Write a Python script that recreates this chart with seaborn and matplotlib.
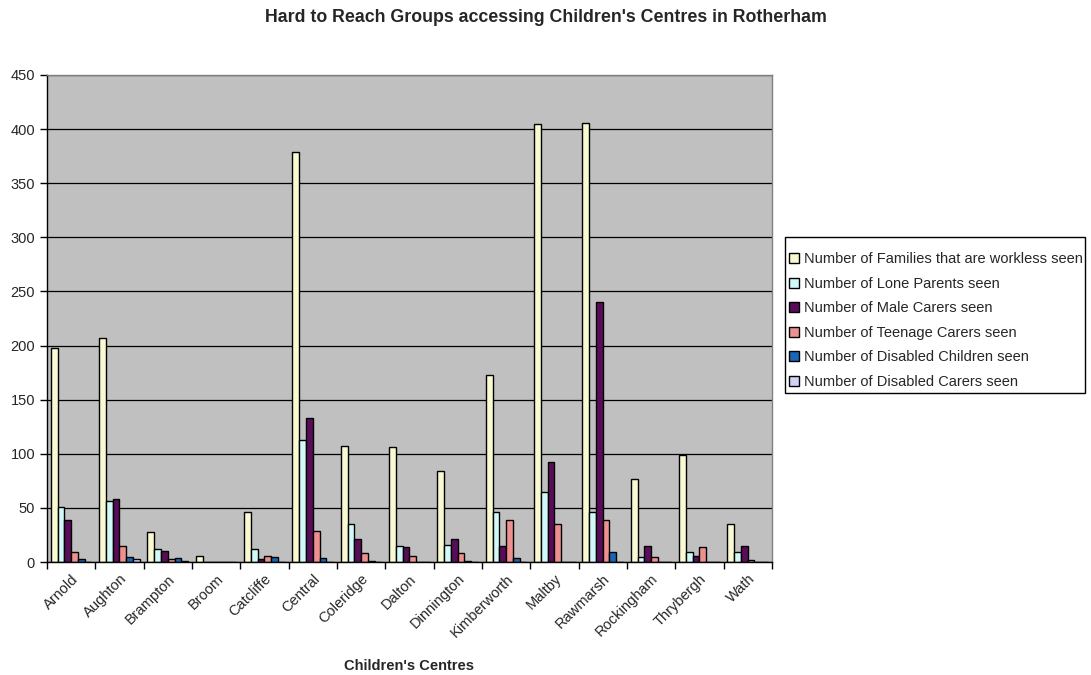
import numpy as np
import pandas as pd
import matplotlib
matplotlib.use("Agg")
import matplotlib.pyplot as plt
from matplotlib.patches import Rectangle
import seaborn as sns

centres = ['Arnold', 'Aughton', 'Brampton', 'Broom', 'Catcliffe', 'Central',
           'Coleridge', 'Dalton', 'Dinnington', 'Kimberworth', 'Maltby',
           'Rawmarsh', 'Rockingham', 'Thrybergh', 'Wath']

series = ['Number of Families that are workless seen',
          'Number of Lone Parents seen',
          'Number of Male Carers seen',
          'Number of Teenage Carers seen',
          'Number of Disabled Children seen',
          'Number of Disabled Carers seen']

workless = [198, 207, 28, 6, 46, 379, 107, 106, 84, 173, 405, 406, 77, 99, 35]
lone_parents = [51, 56, 12, 0, 12, 113, 35, 15, 16, 46, 65, 46, 5, 9, 9]
male_carers = [39, 58, 10, 0, 3, 133, 21, 14, 21, 15, 92, 240, 15, 6, 15]
teenage_carers = [9, 15, 3, 0, 6, 29, 8, 6, 8, 39, 35, 39, 5, 14, 2]
disabled_children = [3, 5, 4, 0, 5, 4, 1, 0, 1, 4, 0, 9, 0, 0, 0]
disabled_carers = [0, 3, 1, 0, 0, 0, 0, 0, 0, 0, 0, 0, 0, 0, 0]

colours = ['#FFFFCC', '#CCFFFF', '#660066', '#FF8080', '#0066CC', '#CCCCFF']

values = [workless, lone_parents, male_carers, teenage_carers,
          disabled_children, disabled_carers]
df = pd.DataFrame({
    'Centre': np.tile(centres, len(series)),
    'Series': np.repeat(series, len(centres)),
    'Value': np.concatenate(values),
})

sns.set_style("white")
plt.rcParams['font.family'] = ['Liberation Sans', 'DejaVu Sans']

fig = plt.figure(figsize=(10.91, 6.75), dpi=100)
ax = fig.add_axes([0.043, 0.1674, 0.6645, 0.7215])
ax.set_facecolor('#C0C0C0')

sns.barplot(data=df, x='Centre', y='Value', hue='Series', order=centres,
            hue_order=series, palette=colours, width=0.84,
            edgecolor='black', linewidth=1.0, ax=ax)

ax.set_ylim(0, 450)
ax.set_xlim(-0.5, len(centres) - 0.5)
ax.set_yticks(np.arange(0, 451, 50))
ax.yaxis.grid(True, color='black', linewidth=0.9)
ax.set_axisbelow(True)

# category ticks sit between groups, labels in the middle
ax.set_xticks(np.arange(len(centres)))
ax.set_xticklabels(centres, rotation=45, ha='right', rotation_mode='anchor')
ax.set_xticks(np.arange(len(centres) + 1) - 0.5, minor=True)
ax.tick_params(axis='x', which='major', length=0, labelsize=10.5, pad=7)
ax.tick_params(axis='x', which='minor', length=5, width=1, color='black',
               direction='out', bottom=True)
ax.tick_params(axis='y', length=5, width=1, color='black', direction='out',
               left=True, labelsize=10.5)

for s in ['left', 'bottom']:
    ax.spines[s].set_color('black')
    ax.spines[s].set_linewidth(1)
for s in ['top', 'right']:
    ax.spines[s].set_color('#808080')
    ax.spines[s].set_linewidth(1)

ax.set_xlabel("Children's Centres", fontsize=10.5, fontweight='bold')
ax.xaxis.set_label_coords(0.5, -0.2)
ax.set_ylabel('')
fig.suptitle("Hard to Reach Groups accessing Children's Centres in Rotherham",
             fontsize=12.8, fontweight='bold', x=0.5, y=0.986)

# legend without its own frame, box drawn separately (Excel-like padding)
leg = ax.legend(loc='upper left', bbox_to_anchor=(0.7232, 0.6262),
                bbox_transform=fig.transFigure, fontsize=10.5, frameon=False,
                handlelength=0.7, handleheight=0.7, handletextpad=0.35,
                labelspacing=0.72, borderpad=0, borderaxespad=0)
fig.add_artist(Rectangle((0.7195, 0.4178), 0.275, 0.2311,
                         transform=fig.transFigure, fill=False,
                         edgecolor='black', linewidth=1))

fig.savefig('out.png', dpi=100)
